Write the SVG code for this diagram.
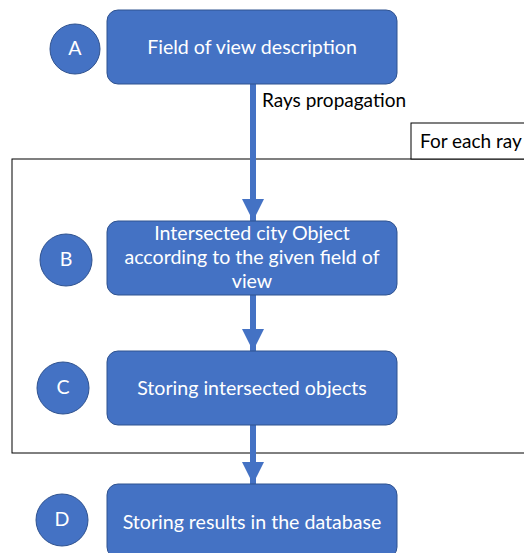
<svg xmlns="http://www.w3.org/2000/svg" width="524" height="553" viewBox="0 0 524 553">
<style>
.box{fill:#4472C4;stroke:#2F528F;stroke-width:1}
.circ{fill:#4472C4;stroke:#2F528F;stroke-width:1}
.wt{fill:#fff;font-family:Lato,"Liberation Sans",sans-serif;font-size:19.6px;text-anchor:middle}
.bt{fill:#000;font-family:Lato,"Liberation Sans",sans-serif;font-size:19px}
.conn{stroke:#4472C4;stroke-width:6;fill:none}
</style>
<defs>
<marker id="ah" markerUnits="userSpaceOnUse" markerWidth="22" markerHeight="22" refX="22" refY="11" orient="auto">
<path d="M0,0 L22,11 L0,22 Z" fill="#4472C4"/>
</marker>
</defs>
<rect width="524" height="553" fill="#fff"/>
<g id="frame">
<rect x="12" y="159" width="520" height="294" fill="none" stroke="#000" stroke-width="1"/>
<rect x="411" y="123" width="120" height="36" fill="#fff" stroke="#000" stroke-width="1"/>
<text class="bt" x="420" y="148">For each ray</text>
</g>
<g id="connectors">
<line class="conn" x1="253" y1="84" x2="253" y2="221" marker-end="url(#ah)"/>
<line class="conn" x1="253" y1="295" x2="253" y2="351" marker-end="url(#ah)"/>
<line class="conn" x1="253" y1="425" x2="253" y2="484" marker-end="url(#ah)"/>
<text class="bt" x="262" y="107">Rays propagation</text>
</g>
<g id="nodeA">
<rect class="box" x="107" y="10" width="290" height="74" rx="11"/>
<text class="wt" x="252" y="54">Field of view description</text>
<circle class="circ" cx="75" cy="49" r="25"/>
<text class="wt" x="75" y="55">A</text>
</g>
<g id="nodeB">
<rect class="box" x="107" y="221" width="290" height="74" rx="11"/>
<text class="wt" x="252" y="240">Intersected city Object</text>
<text class="wt" x="252" y="264">according to the given field of</text>
<text class="wt" x="252" y="288">view</text>
<circle class="circ" cx="66" cy="260" r="26"/>
<text class="wt" x="66" y="266">B</text>
</g>
<g id="nodeC">
<rect class="box" x="107" y="351" width="290" height="74" rx="11"/>
<text class="wt" x="252" y="395">Storing intersected objects</text>
<circle class="circ" cx="63" cy="388" r="26"/>
<text class="wt" x="63" y="394">C</text>
</g>
<g id="nodeD">
<rect class="box" x="107" y="484" width="290" height="74" rx="11"/>
<text class="wt" x="252" y="529">Storing results in the database</text>
<circle class="circ" cx="62" cy="520" r="26"/>
<text class="wt" x="62" y="526">D</text>
</g>
</svg>
